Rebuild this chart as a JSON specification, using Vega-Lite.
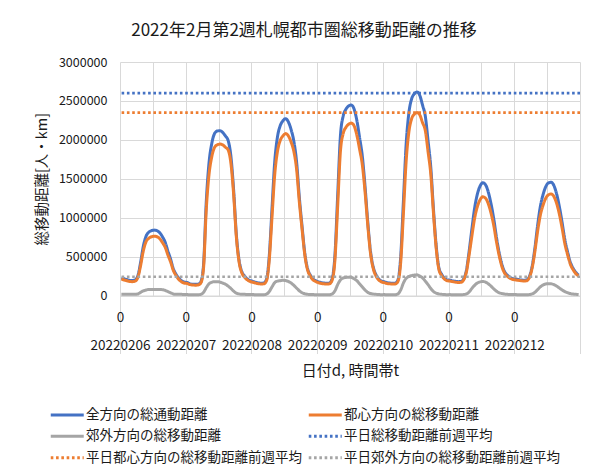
{
  "$schema": "https://vega.github.io/schema/vega-lite/v6.json",
  "width": 460,
  "height": 233.5,
  "autosize": {"type": "none"},
  "padding": {"left": 120, "top": 62, "right": 17, "bottom": 179.5},
  "background": "white",
  "title": {"text": "2022年2月第2週札幌都市圏総移動距離の推移", "fontSize": 17, "fontWeight": "normal", "anchor": "middle", "frame": "group", "dx": -46, "offset": 16, "color": "#1a1a1a"},
  "config": {
    "font": "Noto Sans CJK JP",
    "view": {"stroke": null},
    "axis": {"labelColor": "#1a1a1a", "titleColor": "#1a1a1a", "titleFontWeight": "normal"},
    "legend": {
      "orient": "none", "legendX": -62.75, "legendY": 342.75, "direction": "horizontal", "columns": 2, "columnPadding": 0, "rowPadding": 4.5,
      "symbolType": "M-2,0H2", "symbolSize": 272.25, "symbolStrokeWidth": 3, "labelFontSize": 13.5,
      "labelLimit": 300, "labelOffset": 8.75, "labelColor": "#1a1a1a"
    }
  },
  "datasets": {
    "avg": [
      {"series": "平日総移動距離前週平均", "v": 2600000},
      {"series": "平日都心方向の総移動距離前週平均", "v": 2350000},
      {"series": "平日郊外方向の総移動距離前週平均", "v": 240000}
    ],
    "hourly": [
{"h":0,"全方向の総通動距離":225000,"都心方向の総移動距離":210000,"郊外方向の総移動距離":15000},
{"h":1,"全方向の総通動距離":215000,"都心方向の総移動距離":200000,"郊外方向の総移動距離":15000},
{"h":2,"全方向の総通動距離":205000,"都心方向の総移動距離":190000,"郊外方向の総移動距離":15000},
{"h":3,"全方向の総通動距離":195000,"都心方向の総移動距離":180000,"郊外方向の総移動距離":15000},
{"h":4,"全方向の総通動距離":193000,"都心方向の総移動距離":178000,"郊外方向の総移動距離":15000},
{"h":5,"全方向の総通動距離":200000,"都心方向の総移動距離":185000,"郊外方向の総移動距離":15000},
{"h":6,"全方向の総通動距離":250000,"都心方向の総移動距離":230000,"郊外方向の総移動距離":20000},
{"h":7,"全方向の総通動距離":420000,"都心方向の総移動距離":380000,"郊外方向の総移動距離":40000},
{"h":8,"全方向の総通動距離":630000,"都心方向の総移動距離":570000,"郊外方向の総移動距離":60000},
{"h":9,"全方向の総通動距離":760000,"都心方向の総移動距離":690000,"郊外方向の総移動距離":70000},
{"h":10,"全方向の総通動距離":813000,"都心方向の総移動距離":735000,"郊外方向の総移動距離":78000},
{"h":11,"全方向の総通動距離":833000,"都心方向の総移動距離":755000,"郊外方向の総移動距離":78000},
{"h":12,"全方向の総通動距離":840000,"都心方向の総移動距離":762000,"郊外方向の総移動距離":78000},
{"h":13,"全方向の総通動距離":833000,"都心方向の総移動距離":755000,"郊外方向の総移動距離":78000},
{"h":14,"全方向の総通動距離":806000,"都心方向の総移動距離":730000,"郊外方向の総移動距離":76000},
{"h":15,"全方向の総通動距離":755000,"都心方向の総移動距離":680000,"郊外方向の総移動距離":75000},
{"h":16,"全方向の総通動距離":685000,"都心方向の総移動距離":620000,"郊外方向の総移動距離":65000},
{"h":17,"全方向の総通動距離":570000,"都心方向の総移動距離":520000,"郊外方向の総移動距離":50000},
{"h":18,"全方向の総通動距離":465000,"都心方向の総移動距離":430000,"郊外方向の総移動距離":35000},
{"h":19,"全方向の総通動距離":340000,"都心方向の総移動距離":320000,"郊外方向の総移動距離":20000},
{"h":20,"全方向の総通動距離":270000,"都心方向の総移動距離":255000,"郊外方向の総移動距離":15000},
{"h":21,"全方向の総通動距離":220000,"都心方向の総移動距離":205000,"郊外方向の総移動距離":15000},
{"h":22,"全方向の総通動距離":190000,"都心方向の総移動距離":175000,"郊外方向の総移動距離":15000},
{"h":23,"全方向の総通動距離":172000,"都心方向の総移動距離":160000,"郊外方向の総移動距離":12000},
{"h":24,"全方向の総通動距離":167000,"都心方向の総移動距離":155000,"郊外方向の総移動距離":12000},
{"h":25,"全方向の総通動距離":150000,"都心方向の総移動距離":140000,"郊外方向の総移動距離":10000},
{"h":26,"全方向の総通動距離":145000,"都心方向の総移動距離":135000,"郊外方向の総移動距離":10000},
{"h":27,"全方向の総通動距離":143000,"都心方向の総移動距離":133000,"郊外方向の総移動距離":10000},
{"h":28,"全方向の総通動距離":145000,"都心方向の総移動距離":135000,"郊外方向の総移動距離":10000},
{"h":29,"全方向の総通動距離":175000,"都心方向の総移動距離":160000,"郊外方向の総移動距離":15000},
{"h":30,"全方向の総通動距離":390000,"都心方向の総移動距離":350000,"郊外方向の総移動距離":40000},
{"h":31,"全方向の総通動距離":1200000,"都心方向の総移動距離":1100000,"郊外方向の総移動距離":100000},
{"h":32,"全方向の総通動距離":1700000,"都心方向の総移動距離":1550000,"郊外方向の総移動距離":150000},
{"h":33,"全方向の総通動距離":1950000,"都心方向の総移動距離":1780000,"郊外方向の総移動距離":170000},
{"h":34,"全方向の総通動距離":2078000,"都心方向の総移動距離":1900000,"郊外方向の総移動距離":178000},
{"h":35,"全方向の総通動距離":2113000,"都心方向の総移動距離":1935000,"郊外方向の総移動距離":178000},
{"h":36,"全方向の総通動距離":2117000,"都心方向の総移動距離":1945000,"郊外方向の総移動距離":172000},
{"h":37,"全方向の総通動距離":2095000,"都心方向の総移動距離":1935000,"郊外方向の総移動距離":160000},
{"h":38,"全方向の総通動距離":2050000,"都心方向の総移動距離":1905000,"郊外方向の総移動距離":145000},
{"h":39,"全方向の総通動距離":1990000,"都心方向の総移動距離":1870000,"郊外方向の総移動距離":120000},
{"h":40,"全方向の総通動距離":1790000,"都心方向の総移動距離":1700000,"郊外方向の総移動距離":90000},
{"h":41,"全方向の総通動距離":1355000,"都心方向の総移動距離":1300000,"郊外方向の総移動距離":55000},
{"h":42,"全方向の総通動距離":780000,"都心方向の総移動距離":750000,"郊外方向の総移動距離":30000},
{"h":43,"全方向の総通動距離":450000,"都心方向の総移動距離":430000,"郊外方向の総移動距離":20000},
{"h":44,"全方向の総通動距離":305000,"都心方向の総移動距離":290000,"郊外方向の総移動距離":15000},
{"h":45,"全方向の総通動距離":250000,"都心方向の総移動距離":235000,"郊外方向の総移動距離":15000},
{"h":46,"全方向の総通動距離":212000,"都心方向の総移動距離":200000,"郊外方向の総移動距離":12000},
{"h":47,"全方向の総通動距離":192000,"都心方向の総移動距離":180000,"郊外方向の総移動距離":12000},
{"h":48,"全方向の総通動距離":182000,"都心方向の総移動距離":170000,"郊外方向の総移動距離":12000},
{"h":49,"全方向の総通動距離":170000,"都心方向の総移動距離":160000,"郊外方向の総移動距離":10000},
{"h":50,"全方向の総通動距離":162000,"都心方向の総移動距離":152000,"郊外方向の総移動距離":10000},
{"h":51,"全方向の総通動距離":158000,"都心方向の総移動距離":148000,"郊外方向の総移動距離":10000},
{"h":52,"全方向の総通動距離":160000,"都心方向の総移動距離":150000,"郊外方向の総移動距離":10000},
{"h":53,"全方向の総通動距離":208000,"都心方向の総移動距離":190000,"郊外方向の総移動距離":18000},
{"h":54,"全方向の総通動距離":500000,"都心方向の総移動距離":450000,"郊外方向の総移動距離":50000},
{"h":55,"全方向の総通動距離":1110000,"都心方向の総移動距離":1000000,"郊外方向の総移動距離":110000},
{"h":56,"全方向の総通動距離":1715000,"都心方向の総移動距離":1550000,"郊外方向の総移動距離":165000},
{"h":57,"全方向の総通動距離":2035000,"都心方向の総移動距離":1850000,"郊外方向の総移動距離":185000},
{"h":58,"全方向の総通動距離":2180000,"都心方向の総移動距離":1990000,"郊外方向の総移動距離":190000},
{"h":59,"全方向の総通動距離":2245000,"都心方向の総移動距離":2050000,"郊外方向の総移動距離":195000},
{"h":60,"全方向の総通動距離":2272000,"都心方向の総移動距離":2080000,"郊外方向の総移動距離":192000},
{"h":61,"全方向の総通動距離":2230000,"都心方向の総移動距離":2050000,"郊外方向の総移動距離":180000},
{"h":62,"全方向の総通動距離":2130000,"都心方向の総移動距離":1970000,"郊外方向の総移動距離":160000},
{"h":63,"全方向の総通動距離":1980000,"都心方向の総移動距離":1850000,"郊外方向の総移動距離":130000},
{"h":64,"全方向の総通動距離":1715000,"都心方向の総移動距離":1620000,"郊外方向の総移動距離":95000},
{"h":65,"全方向の総通動距離":1260000,"都心方向の総移動距離":1200000,"郊外方向の総移動距離":60000},
{"h":66,"全方向の総通動距離":885000,"都心方向の総移動距離":850000,"郊外方向の総移動距離":35000},
{"h":67,"全方向の総通動距離":542000,"都心方向の総移動距離":520000,"郊外方向の総移動距離":22000},
{"h":68,"全方向の総通動距離":345000,"都心方向の総移動距離":330000,"郊外方向の総移動距離":15000},
{"h":69,"全方向の総通動距離":262000,"都心方向の総移動距離":250000,"郊外方向の総移動距離":12000},
{"h":70,"全方向の総通動距離":212000,"都心方向の総移動距離":200000,"郊外方向の総移動距離":12000},
{"h":71,"全方向の総通動距離":190000,"都心方向の総移動距離":180000,"郊外方向の総移動距離":10000},
{"h":72,"全方向の総通動距離":175000,"都心方向の総移動距離":165000,"郊外方向の総移動距離":10000},
{"h":73,"全方向の総通動距離":165000,"都心方向の総移動距離":155000,"郊外方向の総移動距離":10000},
{"h":74,"全方向の総通動距離":160000,"都心方向の総移動距離":150000,"郊外方向の総移動距離":10000},
{"h":75,"全方向の総通動距離":157000,"都心方向の総移動距離":147000,"郊外方向の総移動距離":10000},
{"h":76,"全方向の総通動距離":160000,"都心方向の総移動距離":150000,"郊外方向の総移動距離":10000},
{"h":77,"全方向の総通動距離":220000,"都心方向の総移動距離":200000,"郊外方向の総移動距離":20000},
{"h":78,"全方向の総通動距離":520000,"都心方向の総移動距離":460000,"郊外方向の総移動距離":60000},
{"h":79,"全方向の総通動距離":1290000,"都心方向の総移動距離":1150000,"郊外方向の総移動距離":140000},
{"h":80,"全方向の総通動距離":2050000,"都心方向の総移動距離":1850000,"郊外方向の総移動距離":200000},
{"h":81,"全方向の総通動距離":2305000,"都心方向の総移動距離":2080000,"郊外方向の総移動距離":225000},
{"h":82,"全方向の総通動距離":2392000,"都心方向の総移動距離":2160000,"郊外方向の総移動距離":232000},
{"h":83,"全方向の総通動距離":2435000,"都心方向の総移動距離":2200000,"郊外方向の総移動距離":235000},
{"h":84,"全方向の総通動距離":2447000,"都心方向の総移動距離":2215000,"郊外方向の総移動距離":232000},
{"h":85,"全方向の総通動距離":2395000,"都心方向の総移動距離":2180000,"郊外方向の総移動距離":215000},
{"h":86,"全方向の総通動距離":2250000,"都心方向の総移動距離":2060000,"郊外方向の総移動距離":190000},
{"h":87,"全方向の総通動距離":2030000,"都心方向の総移動距離":1880000,"郊外方向の総移動距離":150000},
{"h":88,"全方向の総通動距離":1790000,"都心方向の総移動距離":1680000,"郊外方向の総移動距離":110000},
{"h":89,"全方向の総通動距離":1400000,"都心方向の総移動距離":1330000,"郊外方向の総移動距離":70000},
{"h":90,"全方向の総通動距離":940000,"都心方向の総移動距離":900000,"郊外方向の総移動距離":40000},
{"h":91,"全方向の総通動距離":565000,"都心方向の総移動距離":540000,"郊外方向の総移動距離":25000},
{"h":92,"全方向の総通動距離":363000,"都心方向の総移動距離":345000,"郊外方向の総移動距離":18000},
{"h":93,"全方向の総通動距離":265000,"都心方向の総移動距離":250000,"郊外方向の総移動距離":15000},
{"h":94,"全方向の総通動距離":212000,"都心方向の総移動距離":200000,"郊外方向の総移動距離":12000},
{"h":95,"全方向の総通動距離":185000,"都心方向の総移動距離":175000,"郊外方向の総移動距離":10000},
{"h":96,"全方向の総通動距離":177000,"都心方向の総移動距離":165000,"郊外方向の総移動距離":12000},
{"h":97,"全方向の総通動距離":165000,"都心方向の総移動距離":155000,"郊外方向の総移動距離":10000},
{"h":98,"全方向の総通動距離":160000,"都心方向の総移動距離":150000,"郊外方向の総移動距離":10000},
{"h":99,"全方向の総通動距離":157000,"都心方向の総移動距離":147000,"郊外方向の総移動距離":10000},
{"h":100,"全方向の総通動距離":158000,"都心方向の総移動距離":148000,"郊外方向の総移動距離":10000},
{"h":101,"全方向の総通動距離":200000,"都心方向の総移動距離":180000,"郊外方向の総移動距離":20000},
{"h":102,"全方向の総通動距離":490000,"都心方向の総移動距離":420000,"郊外方向の総移動距離":70000},
{"h":103,"全方向の総通動距離":1210000,"都心方向の総移動距離":1050000,"郊外方向の総移動距離":160000},
{"h":104,"全方向の総通動距離":1940000,"都心方向の総移動距離":1720000,"郊外方向の総移動距離":220000},
{"h":105,"全方向の総通動距離":2345000,"都心方向の総移動距離":2100000,"郊外方向の総移動距離":245000},
{"h":106,"全方向の総通動距離":2525000,"都心方向の総移動距離":2270000,"郊外方向の総移動距離":255000},
{"h":107,"全方向の総通動距離":2592000,"都心方向の総移動距離":2330000,"郊外方向の総移動距離":262000},
{"h":108,"全方向の総通動距離":2615000,"都心方向の総移動距離":2350000,"郊外方向の総移動距離":265000},
{"h":109,"全方向の総通動距離":2570000,"都心方向の総移動距離":2320000,"郊外方向の総移動距離":250000},
{"h":110,"全方向の総通動距離":2445000,"都心方向の総移動距離":2220000,"郊外方向の総移動距離":225000},
{"h":111,"全方向の総通動距離":2305000,"都心方向の総移動距離":2120000,"郊外方向の総移動距離":185000},
{"h":112,"全方向の総通動距離":1990000,"都心方向の総移動距離":1850000,"郊外方向の総移動距離":140000},
{"h":113,"全方向の総通動距離":1650000,"都心方向の総移動距離":1560000,"郊外方向の総移動距離":90000},
{"h":114,"全方向の総通動距離":1100000,"都心方向の総移動距離":1050000,"郊外方向の総移動距離":50000},
{"h":115,"全方向の総通動距離":630000,"都心方向の総移動距離":600000,"郊外方向の総移動距離":30000},
{"h":116,"全方向の総通動距離":350000,"都心方向の総移動距離":330000,"郊外方向の総移動距離":20000},
{"h":117,"全方向の総通動距離":270000,"都心方向の総移動距離":255000,"郊外方向の総移動距離":15000},
{"h":118,"全方向の総通動距離":222000,"都心方向の総移動距離":210000,"郊外方向の総移動距離":12000},
{"h":119,"全方向の総通動距離":200000,"都心方向の総移動距離":190000,"郊外方向の総移動距離":10000},
{"h":120,"全方向の総通動距離":197000,"都心方向の総移動距離":185000,"郊外方向の総移動距離":12000},
{"h":121,"全方向の総通動距離":188000,"都心方向の総移動距離":178000,"郊外方向の総移動距離":10000},
{"h":122,"全方向の総通動距離":182000,"都心方向の総移動距離":172000,"郊外方向の総移動距離":10000},
{"h":123,"全方向の総通動距離":178000,"都心方向の総移動距離":168000,"郊外方向の総移動距離":10000},
{"h":124,"全方向の総通動距離":180000,"都心方向の総移動距離":170000,"郊外方向の総移動距離":10000},
{"h":125,"全方向の総通動距離":212000,"都心方向の総移動距離":200000,"郊外方向の総移動距離":12000},
{"h":126,"全方向の総通動距離":320000,"都心方向の総移動距離":300000,"郊外方向の総移動距離":20000},
{"h":127,"全方向の総通動距離":565000,"都心方向の総移動距離":520000,"郊外方向の総移動距離":45000},
{"h":128,"全方向の総通動距離":850000,"都心方向の総移動距離":760000,"郊外方向の総移動距離":90000},
{"h":129,"全方向の総通動距離":1120000,"都心方向の総移動距離":990000,"郊外方向の総移動距離":130000},
{"h":130,"全方向の総通動距離":1300000,"都心方向の総移動距離":1140000,"郊外方向の総移動距離":160000},
{"h":131,"全方向の総通動距離":1405000,"都心方向の総移動距離":1230000,"郊外方向の総移動距離":175000},
{"h":132,"全方向の総通動距離":1448000,"都心方向の総移動距離":1268000,"郊外方向の総移動距離":180000},
{"h":133,"全方向の総通動距離":1422000,"都心方向の総移動距離":1250000,"郊外方向の総移動距離":172000},
{"h":134,"全方向の総通動距離":1330000,"都心方向の総移動距離":1180000,"郊外方向の総移動距離":150000},
{"h":135,"全方向の総通動距離":1180000,"都心方向の総移動距離":1060000,"郊外方向の総移動距離":120000},
{"h":136,"全方向の総通動距離":985000,"都心方向の総移動距離":900000,"郊外方向の総移動距離":85000},
{"h":137,"全方向の総通動距離":745000,"都心方向の総移動距離":690000,"郊外方向の総移動距離":55000},
{"h":138,"全方向の総通動距離":545000,"都心方向の総移動距離":510000,"郊外方向の総移動距離":35000},
{"h":139,"全方向の総通動距離":395000,"都心方向の総移動距離":370000,"郊外方向の総移動距離":25000},
{"h":140,"全方向の総通動距離":303000,"都心方向の総移動距離":285000,"郊外方向の総移動距離":18000},
{"h":141,"全方向の総通動距離":260000,"都心方向の総移動距離":245000,"郊外方向の総移動距離":15000},
{"h":142,"全方向の総通動距離":232000,"都心方向の総移動距離":220000,"郊外方向の総移動距離":12000},
{"h":143,"全方向の総通動距離":217000,"都心方向の総移動距離":205000,"郊外方向の総移動距離":12000},
{"h":144,"全方向の総通動距離":212000,"都心方向の総移動距離":200000,"郊外方向の総移動距離":12000},
{"h":145,"全方向の総通動距離":205000,"都心方向の総移動距離":195000,"郊外方向の総移動距離":10000},
{"h":146,"全方向の総通動距離":200000,"都心方向の総移動距離":190000,"郊外方向の総移動距離":10000},
{"h":147,"全方向の総通動距離":196000,"都心方向の総移動距離":186000,"郊外方向の総移動距離":10000},
{"h":148,"全方向の総通動距離":200000,"都心方向の総移動距離":190000,"郊外方向の総移動距離":10000},
{"h":149,"全方向の総通動距離":242000,"都心方向の総移動距離":230000,"郊外方向の総移動距離":12000},
{"h":150,"全方向の総通動距離":370000,"都心方向の総移動距離":350000,"郊外方向の総移動距離":20000},
{"h":151,"全方向の総通動距離":600000,"都心方向の総移動距離":560000,"郊外方向の総移動距離":40000},
{"h":152,"全方向の総通動距離":895000,"都心方向の総移動距離":820000,"郊外方向の総移動距離":75000},
{"h":153,"全方向の総通動距離":1140000,"都心方向の総移動距離":1030000,"郊外方向の総移動距離":110000},
{"h":154,"全方向の総通動距離":1295000,"都心方向の総移動距離":1160000,"郊外方向の総移動距離":135000},
{"h":155,"全方向の総通動距離":1398000,"都心方向の総移動距離":1250000,"郊外方向の総移動距離":148000},
{"h":156,"全方向の総通動距離":1447000,"都心方向の総移動距離":1295000,"郊外方向の総移動距離":152000},
{"h":157,"全方向の総通動距離":1455000,"都心方向の総移動距離":1305000,"郊外方向の総移動距離":150000},
{"h":158,"全方向の総通動距離":1410000,"都心方向の総移動距離":1270000,"郊外方向の総移動距離":140000},
{"h":159,"全方向の総通動距離":1300000,"都心方向の総移動距離":1180000,"郊外方向の総移動距離":120000},
{"h":160,"全方向の総通動距離":1135000,"都心方向の総移動距離":1040000,"郊外方向の総移動距離":95000},
{"h":161,"全方向の総通動距離":930000,"都心方向の総移動距離":860000,"郊外方向の総移動距離":70000},
{"h":162,"全方向の総通動距離":710000,"都心方向の総移動距離":660000,"郊外方向の総移動距離":50000},
{"h":163,"全方向の総通動距離":555000,"都心方向の総移動距離":520000,"郊外方向の総移動距離":35000},
{"h":164,"全方向の総通動距離":425000,"都心方向の総移動距離":400000,"郊外方向の総移動距離":25000},
{"h":165,"全方向の総通動距離":348000,"都心方向の総移動距離":330000,"郊外方向の総移動距離":18000},
{"h":166,"全方向の総通動距離":295000,"都心方向の総移動距離":280000,"郊外方向の総移動距離":15000},
{"h":167,"全方向の総通動距離":262000,"都心方向の総移動距離":250000,"郊外方向の総移動距離":12000}
    ]
  },
  "encoding": {
    "x": {
      "field": "h", "type": "quantitative",
      "scale": {"domain": [-0.5, 167.5], "nice": false, "zero": false},
      "axis": {
        "title": "日付d, 時間帯t",
        "values": [-0.5, 11.5, 23.5, 35.5, 47.5, 59.5, 71.5, 83.5, 95.5, 107.5, 119.5, 131.5, 143.5, 155.5, 167.5],
        "grid": true, "gridColor": "#d9d9d9", "domainColor": "#d9d9d9",
        "tickColor": "#d9d9d9", "tickSize": 58,
        "tickOpacity": {"condition": {"test": "(datum.value + 0.5) % 24 == 0", "value": 1}, "value": 0},
        "labelExpr": "(datum.value + 0.5) % 24 == 0 && datum.value < 167 ? ['0', ['20220206','20220207','20220208','20220209','20220210','20220211','20220212'][(datum.value + 0.5) / 24]] : ''",
        "labelPadding": -43, "labelLineHeight": 27.5, "labelFontSize": 13.5, "labelBaseline": "top",
        "labelFlush": false, "labelOverlap": false, "labelBound": false,
        "titleFontSize": 15, "titlePadding": 9
      }
    },
    "y": {
      "field": "v", "type": "quantitative",
      "scale": {"domain": [0, 3000000], "nice": false},
      "axis": {
        "title": "総移動距離[人・km]",
        "values": [0, 500000, 1000000, 1500000, 2000000, 2500000, 3000000],
        "format": "d", "grid": true, "gridColor": "#d9d9d9", "domain": false, "ticks": false,
        "labelPadding": 13, "labelFontSize": 12.5, "titleFontSize": 14.5, "titlePadding": 9
      }
    },
    "color": {
      "field": "series", "type": "nominal", "title": null,
      "scale": {
        "domain": ["全方向の総通動距離", "都心方向の総移動距離", "郊外方向の総移動距離", "平日総移動距離前週平均", "平日都心方向の総移動距離前週平均", "平日郊外方向の総移動距離前週平均"],
        "range": ["#4472C4", "#ED7D31", "#A5A5A5", "#4472C4", "#ED7D31", "#A5A5A5"]
      }
    },
    "strokeDash": {
      "field": "series", "type": "nominal", "title": null,
      "scale": {
        "domain": ["全方向の総通動距離", "都心方向の総移動距離", "郊外方向の総移動距離", "平日総移動距離前週平均", "平日都心方向の総移動距離前週平均", "平日郊外方向の総移動距離前週平均"],
        "range": [[1, 0], [1, 0], [1, 0], [2.6, 2.7], [2.6, 2.7], [2.6, 2.7]]
      }
    }
  },
  "layer": [
    {
      "data": {"name": "hourly"},
      "transform": [{"fold": ["全方向の総通動距離"], "as": ["series", "v"]}],
      "mark": {"type": "line", "strokeWidth": 3, "interpolate": "monotone"}
    },
    {
      "data": {"name": "hourly"},
      "transform": [{"fold": ["都心方向の総移動距離"], "as": ["series", "v"]}],
      "mark": {"type": "line", "strokeWidth": 3, "interpolate": "monotone"}
    },
    {
      "data": {"name": "hourly"},
      "transform": [{"fold": ["郊外方向の総移動距離"], "as": ["series", "v"]}],
      "mark": {"type": "line", "strokeWidth": 3, "interpolate": "monotone"}
    },
    {
      "data": {"name": "avg"},
      "mark": {"type": "rule", "strokeWidth": 2.6},
      "encoding": {
        "x": null,
        "y": {"field": "v", "type": "quantitative"}
      }
    }
  ]
}
